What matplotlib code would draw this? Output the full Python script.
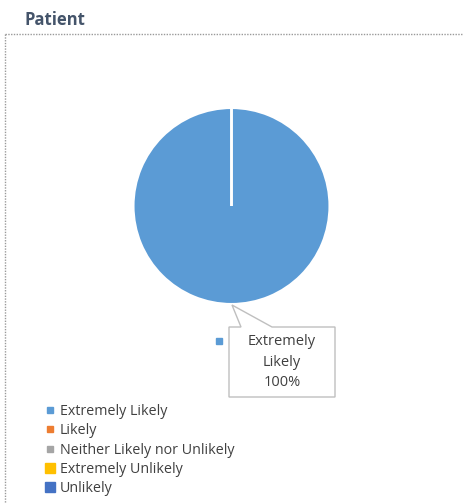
import matplotlib.pyplot as plt
from matplotlib.lines import Line2D
from matplotlib.patches import Polygon

plt.rcParams['font.family'] = ['Open Sans', 'DejaVu Sans']

categories = ["Extremely Likely", "Likely", "Neither Likely nor Unlikely",
              "Extremely Unlikely", "Unlikely"]
values = [100, 0, 0, 0, 0]
colors = ["#5B9BD5", "#ED7D31", "#A5A5A5", "#FFC000", "#4472C4"]
legend_marker_sizes = [4, 4, 4, 7, 7]
title = "Patient"

W, H = 463, 503
fig = plt.figure(figsize=(W / 100, H / 100), dpi=100)


def fx(px):
    return px / W


def fy(py):
    return 1 - py / H


# chart area border (dotted, only top and left visible)
fig.add_artist(Line2D([fx(5), fx(463)], [fy(34), fy(34)], color="#9A9A9A",
                      lw=1, ls=(0, (1, 1)), transform=fig.transFigure))
fig.add_artist(Line2D([fx(5), fx(5)], [fy(34), fy(503)], color="#9A9A9A",
                      lw=1, ls=(0, (1, 1)), transform=fig.transFigure))

fig.text(fx(24), fy(20), title, fontsize=12, fontweight="bold",
         color="#44546A", va="center", ha="left")

# pie
cx, cy, r = 231.5, 206, 98
ax = fig.add_axes([fx(cx - r), fy(cy + r), 2 * r / W, 2 * r / H])
ax.pie(values, colors=colors, startangle=90, counterclock=False,
       wedgeprops=dict(edgecolor="white", linewidth=1.5))
ax.set_xlim(-1, 1)
ax.set_ylim(-1, 1)
ax.set_aspect("auto")
ax.axis("off")

# data label callout
pts = [(229, 327), (241, 327), (232, 305), (272, 327), (335, 327),
       (335, 397), (229, 397)]
fig.add_artist(Polygon([(fx(x), fy(y)) for x, y in pts], closed=True,
                       facecolor="white", edgecolor="#BFBFBF", lw=1,
                       transform=fig.transFigure))
label = f"Extremely\nLikely\n{values[0]}%"
fig.text(fx(282), fy(362), label, ha="center", va="center", fontsize=10.5,
         color="#404040", linespacing=1.5)
fig.add_artist(Line2D([fx(219)], [fy(341)], marker="s", markersize=4,
                      color=colors[0], ls="none", transform=fig.transFigure))

# legend
handles = [Line2D([], [], marker="s", ls="none", color=c, markersize=s)
           for c, s in zip(colors, legend_marker_sizes)]
fig.legend(handles, categories, loc="upper left",
           bbox_to_anchor=(fx(46), fy(404)), frameon=False, fontsize=10.3,
           labelcolor="#404040", handlelength=0.6, handletextpad=0.35,
           labelspacing=0.3, borderpad=0, borderaxespad=0)

fig.savefig("out.png", dpi=100)
